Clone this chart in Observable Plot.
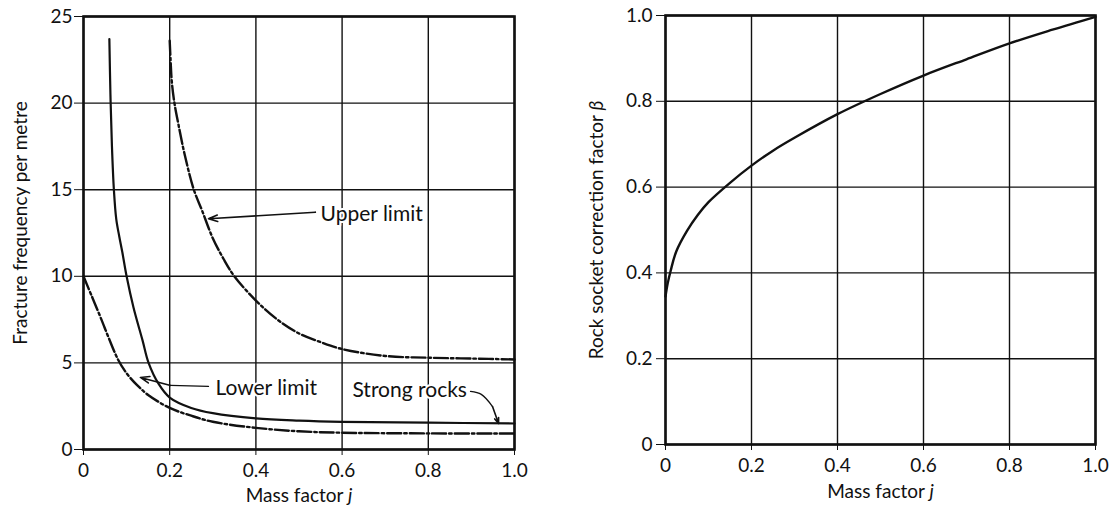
<!DOCTYPE html>
<html><head><meta charset="utf-8">
<script src="https://cdn.jsdelivr.net/npm/d3@7"></script>
<script src="https://cdn.jsdelivr.net/npm/@observablehq/plot@0.6"></script>
<style>
html,body{margin:0;padding:0;background:#fff;}
#wrap{position:relative;width:1115px;height:512px;overflow:hidden;background:#fff;}
#left{position:absolute;left:0;top:0;}
#right{position:absolute;left:557px;top:0;}
svg{display:block;}
</style></head><body><div id="wrap"><div id="left"></div><div id="right"></div></div>
<script>
// ---- data ----
const xTicks = [0, 0.2, 0.4, 0.6, 0.8, 1.0];
const leftYTicks = [0, 5, 10, 15, 20, 25];
const rightYTicks = [0, 0.2, 0.4, 0.6, 0.8, 1.0];

const strongJ = [0.06, 0.0625, 0.066, 0.0705, 0.076, 0.083, 0.09, 0.1, 0.116, 0.137, 0.151, 0.174, 0.2, 0.25, 0.3, 0.4, 0.5, 0.6, 0.8, 1.0];
const strongF = [23.7, 20.5, 17.5, 15, 13.3, 12.3, 11.4, 10.0, 8.2, 6.3, 5.0, 3.8, 3.0, 2.4, 2.1, 1.8, 1.67, 1.6, 1.55, 1.5];

const lowerJ = [0, 0.02, 0.04, 0.06, 0.08, 0.1, 0.125, 0.15, 0.2, 0.25, 0.3, 0.4, 0.5, 0.6, 0.8, 1.0];
const lowerF = [10, 8.8, 7.6, 6.35, 5.2, 4.4, 3.7, 3.15, 2.4, 1.95, 1.6, 1.25, 1.05, 0.97, 0.93, 0.92];

const upperJ = [0.2, 0.202, 0.205, 0.211, 0.22, 0.235, 0.256, 0.275, 0.3, 0.325, 0.35, 0.4, 0.45, 0.5, 0.55, 0.6, 0.7, 0.8, 0.9, 1.0];
const upperF = [23.6, 22.5, 21.2, 20, 18.8, 17, 15, 13.8, 12.2, 11.0, 10.0, 8.6, 7.5, 6.7, 6.2, 5.8, 5.4, 5.3, 5.25, 5.2];

const betaJ = [0, 0.005, 0.012, 0.025, 0.05, 0.075, 0.1, 0.15, 0.2, 0.25, 0.3, 0.4, 0.5, 0.6, 0.7, 0.8, 0.9, 1.0];
const betaV = [0.345, 0.375, 0.405, 0.45, 0.498, 0.535, 0.565, 0.61, 0.65, 0.685, 0.715, 0.77, 0.817, 0.86, 0.898, 0.935, 0.967, 0.997];

// annotation labels and leader lines (data coordinates)
const labelText = ["Upper limit", "Lower limit", "Strong rocks"];
const labelJ = [0.55, 0.306, 0.624];
const labelF = [13.6, 3.52, 3.4];
const upperLeaderJ = [0.538, 0.29];
const upperLeaderF = [13.7, 13.32];
const lowerLeaderJ = [0.29, 0.202, 0.132];
const lowerLeaderF = [3.64, 3.70, 4.16];
const strongLeaderJ = [0.898, 0.923, 0.949, 0.963];
const strongLeaderF = [3.35, 3.18, 2.48, 1.5];

const leftYLabel = "Fracture frequency per metre";
const rightYLabel = "Rock socket correction factor β";
const xLabel = "Mass factor j";

// ---- build ----
const rows = (js, vs) => js.map((j, i) => ({j, v: vs[i]}));
const fmt = d => d === 0 ? "0" : d.toFixed(1);
const ink = "#111";
const style = {fontFamily: "Lato, 'Open Sans', sans-serif", fontSize: "19px", color: ink, background: "white"};
const dashDot = "14,3,2.5,3";

function leader(js, vs) {
  const pts = rows(js, vs);
  const n = pts.length;
  return [
    Plot.line(pts.slice(0, n - 1), {x: "j", y: "v", stroke: ink, strokeWidth: 1.3, curve: "catmull-rom"}),
    Plot.arrow([{a: pts[n - 2], b: pts[n - 1]}], {
      x1: d => d.a.j, y1: d => d.a.v, x2: d => d.b.j, y2: d => d.b.v,
      stroke: ink, strokeWidth: 1.6, headLength: 9, headAngle: 40
    })
  ];
}

const left = Plot.plot({
  width: 557, height: 512,
  marginLeft: 83, marginRight: 43, marginTop: 16, marginBottom: 63,
  style,
  x: {domain: [0, 1], ticks: xTicks, tickFormat: fmt, tickSize: 6, tickPadding: 8, label: null},
  y: {domain: [0, 25], ticks: leftYTicks, tickFormat: d => String(d), tickSize: 9, tickPadding: 2, label: null},
  marks: [
    Plot.ruleX(xTicks, {stroke: ink, strokeWidth: 1.4}),
    Plot.ruleY(leftYTicks, {stroke: ink, strokeWidth: 1.4}),
    Plot.frame({stroke: ink, strokeWidth: 2.6}),
    Plot.line(rows(upperJ, upperF), {x: "j", y: "v", curve: "catmull-rom", stroke: ink, strokeWidth: 2.4, strokeDasharray: dashDot}),
    Plot.line(rows(lowerJ, lowerF), {x: "j", y: "v", curve: "catmull-rom", stroke: ink, strokeWidth: 2.4, strokeDasharray: dashDot}),
    Plot.line(rows(strongJ, strongF), {x: "j", y: "v", curve: "catmull-rom", stroke: ink, strokeWidth: 2.2}),
    ...leader(upperLeaderJ, upperLeaderF),
    ...leader(lowerLeaderJ, lowerLeaderF),
    ...leader(strongLeaderJ, strongLeaderF),
    Plot.text(labelText.map((t, i) => ({t, j: labelJ[i], v: labelF[i]})), {
      x: "j", y: "v", text: "t", textAnchor: "start", fill: ink, fontSize: 21,
      stroke: "white", strokeWidth: 4, paintOrder: "stroke"
    }),
    Plot.text([leftYLabel], {frameAnchor: "left", textAnchor: "middle", lineAnchor: "middle", rotate: -90, dx: -63, dy: -10, fill: ink, fontSize: 19}),
    Plot.text([xLabel], {frameAnchor: "bottom", textAnchor: "middle", lineAnchor: "middle", dy: 46, fill: ink, fontSize: 19})
  ]
});

const right = Plot.plot({
  width: 558, height: 512,
  marginLeft: 108, marginRight: 20, marginTop: 15, marginBottom: 68,
  style,
  x: {domain: [0, 1], ticks: xTicks, tickFormat: fmt, tickSize: 6, tickPadding: 8, label: null},
  y: {domain: [0, 1], ticks: rightYTicks, tickFormat: fmt, tickSize: 9, tickPadding: 4, label: null},
  marks: [
    Plot.ruleX(xTicks, {stroke: ink, strokeWidth: 1.4}),
    Plot.ruleY(rightYTicks, {stroke: ink, strokeWidth: 1.4}),
    Plot.frame({stroke: ink, strokeWidth: 2.6}),
    Plot.line(rows(betaJ, betaV), {x: "j", y: "v", curve: "catmull-rom", stroke: ink, strokeWidth: 2.4}),
    Plot.text([rightYLabel], {frameAnchor: "left", textAnchor: "middle", lineAnchor: "middle", rotate: -90, dx: -69, fill: ink, fontSize: 19}),
    Plot.text([xLabel], {frameAnchor: "bottom", textAnchor: "middle", lineAnchor: "middle", dy: 47, fill: ink, fontSize: 19})
  ]
});

document.getElementById("left").appendChild(left);
document.getElementById("right").appendChild(right);

// italicise the symbols j and β
document.querySelectorAll("svg text").forEach(t => {
  const s = t.textContent;
  if (s === xLabel) t.innerHTML = 'Mass factor <tspan font-style="italic">j</tspan>';
  if (s === rightYLabel) t.innerHTML = 'Rock socket correction factor <tspan font-style="italic">β</tspan>';
});
</script>
</body></html>
